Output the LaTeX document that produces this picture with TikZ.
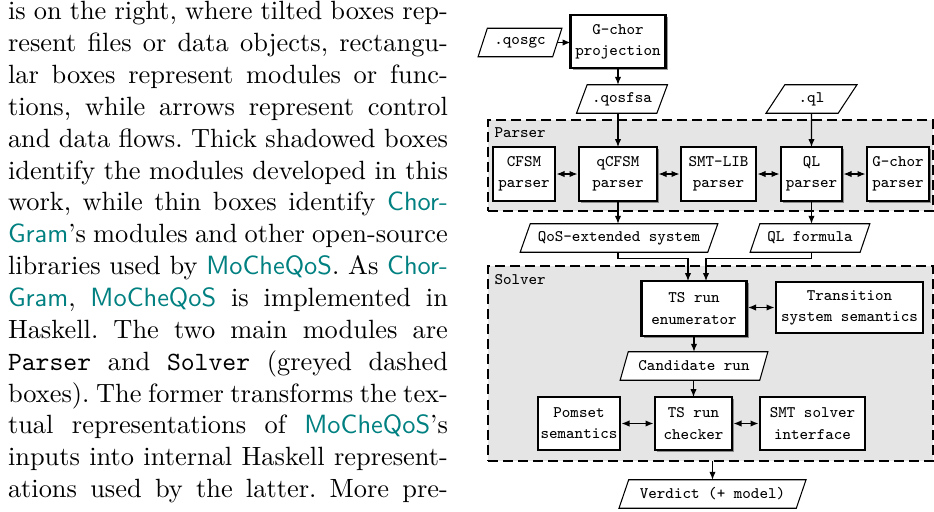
\documentclass[tikz,border=0pt]{standalone}
\usetikzlibrary{shapes.geometric,shadows,arrows.meta}
\def\px{*0.3789pt}
\newcommand\mq[1]{\textcolor{teal}{\textsf{#1}}}
\begin{document}
\frenchspacing
\begin{tikzpicture}[x=0.3789pt,y=-0.3789pt,
  every node/.style={inner sep=0pt, outer sep=0pt},
  lbl/.style={font=\fontsize{6.1}{8}\selectfont\ttfamily, align=center},
  modbox/.style={lbl, draw, line width=0.4pt, fill=white, minimum height=53\px},
  newbox/.style={modbox, line width=1.1pt, drop shadow={shadow xshift=0.9pt, shadow yshift=-0.9pt, opacity=0.5, fill=black!80}},
  databox/.style={lbl, draw, line width=0.4pt, fill=white, trapezium, trapezium left angle=56, trapezium right angle=124, trapezium stretches=true, minimum height=28.5\px},
  groupbox/.style={draw, dash pattern=on 3.8pt off 1.9pt, line width=0.45pt, fill=black!10},
  arrow1/.style={-{Latex[length=3pt,width=2.4pt]}, line width=0.4pt},
  darrow/.style={{Latex[length=3pt,width=2.4pt]}-{Latex[length=3pt,width=2.4pt]}, line width=0.4pt, shorten <=0.6pt, shorten >=0.6pt},
  bodyline/.style={anchor=base west, font=\fontsize{10}{12}\selectfont}
]
\useasboundingbox (0,0) rectangle (934,511);

% ---- body text ----
\node[bodyline] (t1) at (8,19.8) {\makebox[166.7pt][s]{is on the right, where tilted boxes rep-}};
\node[bodyline] (t2) at (8,51.65) {\makebox[166.7pt][s]{resent files or data objects, rectangu-}};
\node[bodyline] (t3) at (8,83.5) {\makebox[166.7pt][s]{lar boxes represent modules or func-}};
\node[bodyline] (t4) at (8,115.35) {\makebox[166.7pt][s]{tions, while arrows represent control}};
\node[bodyline] (t5) at (8,147.2) {\makebox[166.7pt][s]{and data flows. Thick shadowed boxes}};
\node[bodyline] (t6) at (8,179.05) {\makebox[166.7pt][s]{identify the modules developed in this}};
\node[bodyline] (t7) at (8,210.9) {\makebox[166.7pt][s]{work, while thin boxes identify \mq{Chor-}}};
\node[bodyline] (t8) at (8,242.75) {\makebox[166.7pt][s]{\mq{Gram}'s modules and other open-source}};
\node[bodyline] (t9) at (8,274.6) {\makebox[166.7pt][s]{libraries used by \mq{MoCheQoS}. As \mq{Chor-}}};
\node[bodyline] (t10) at (8,306.45) {\makebox[166.7pt][s]{\mq{Gram}, \mq{MoCheQoS} is implemented in}};
\node[bodyline] (t11) at (8,338.3) {\makebox[166.7pt][s]{Haskell. The two main modules are}};
\node[bodyline] (t12) at (8,370.15) {\makebox[166.7pt][s]{\texttt{Parser} and \texttt{Solver} (greyed dashed}};
\node[bodyline] (t13) at (8,402) {\makebox[166.7pt][s]{boxes). The former transforms the tex-}};
\node[bodyline] (t14) at (8,433.85) {\makebox[166.7pt][s]{tual representations of \mq{MoCheQoS}'s}};
\node[bodyline] (t15) at (8,465.7) {\makebox[166.7pt][s]{inputs into internal Haskell represent-}};
\node[bodyline] (t16) at (8,497.55) {\makebox[166.7pt][s]{ations used by the latter. More pre-}};

% ---- groups ----
\node[groupbox, minimum width=445\px, minimum height=91\px] (parser) at (710.5,165.5) {};
\node[groupbox, minimum width=445\px, minimum height=195\px] (solver) at (710.5,363.5) {};
\node[lbl, anchor=base west] (plabel) at (494.5,137) {Parser};
\node[lbl, anchor=base west] (slabel) at (494.5,284) {Solver};

% ---- top ----
\node[newbox, minimum width=95\px] (proj) at (618,41.5) {G-chor\\projection};
\node[databox, minimum width=84\px] (qosgc) at (520,42.5) {.qosgc};
\node[databox, minimum width=91\px] (qosfsa) at (622,99) {.qosfsa};
\node[databox, minimum width=91\px] (ql) at (811.5,99) {.ql};

% ---- parser modules ----
\node[modbox, minimum width=62\px, minimum height=54\px] (cfsm) at (524,174) {CFSM\\parser};
\node[newbox, minimum width=78\px, minimum height=54\px] (qcfsm) at (618,174) {qCFSM\\parser};
\node[modbox, minimum width=75\px, minimum height=54\px] (smtlib) at (718.5,174) {SMT-LIB\\parser};
\node[newbox, minimum width=61\px, minimum height=54\px] (qlp) at (811.5,174) {QL\\parser};
\node[newbox, minimum width=62\px, minimum height=54\px] (gcp) at (898,174) {G-chor\\parser};

\node[databox, minimum width=199\px] (qosext) at (619,238) {QoS-extended system};
\node[databox, minimum width=120\px] (qlf) at (810,238) {QL formula};

% ---- solver modules ----
\node[newbox, minimum width=105\px, minimum height=55\px] (enum) at (694,308.5) {TS run\\enumerator};
\node[modbox, minimum width=147\px, minimum height=51\px] (tss) at (849.5,307.5) {Transition\\system semantics};
\node[databox, minimum width=148\px] (cand) at (694,366) {Candidate run};
\node[modbox, minimum width=82\px] (pom) at (579,423.5) {Pomset\\semantics};
\node[newbox, minimum width=77\px] (chk) at (693.5,423.5) {TS run\\checker};
\node[modbox, minimum width=105\px] (smts) at (812.5,423.5) {SMT solver\\interface};
\node[databox, minimum width=188\px] (verd) at (712.5,494) {Verdict (+ model)};

% ---- connectors ----
\draw[arrow1] (qosgc.east) -- (qosgc.east -| proj.west);
\draw[arrow1] (proj.south) -- (proj.south |- qosfsa.north);
\draw[arrow1] (qosfsa.south -| qcfsm.north) -- (qcfsm.north);
\draw[arrow1] (ql.south) -- (qlp.north);
\draw[darrow] (cfsm.east) -- (qcfsm.west);
\draw[darrow] (qcfsm.east) -- (smtlib.west);
\draw[darrow] (smtlib.east) -- (qlp.west);
\draw[darrow] (qlp.east) -- (gcp.west);
\draw[arrow1] (qcfsm.south) -- (qcfsm.south |- qosext.north);
\draw[arrow1] (qlp.south) -- (qlp.south |- qlf.north);
\draw[arrow1] (qosext.south -| qcfsm.south) -- ++(0,6) -| ([xshift=-6\px]enum.north);
\draw[arrow1] (qlf.south -| qlp.south) -- ++(0,6) -| ([xshift=12\px]enum.north);
\draw[darrow] (tss.west -| enum.east) -- (tss.west);
\draw[arrow1] (enum.south) -- (enum.south |- cand.north);
\draw[arrow1] (cand.south -| chk.north) -- (chk.north);
\draw[darrow] (pom.east) -- (chk.west);
\draw[darrow] (chk.east) -- (smts.west);
\draw[arrow1] (verd.north |- solver.south) -- (verd.north);
\end{tikzpicture}
\end{document}
